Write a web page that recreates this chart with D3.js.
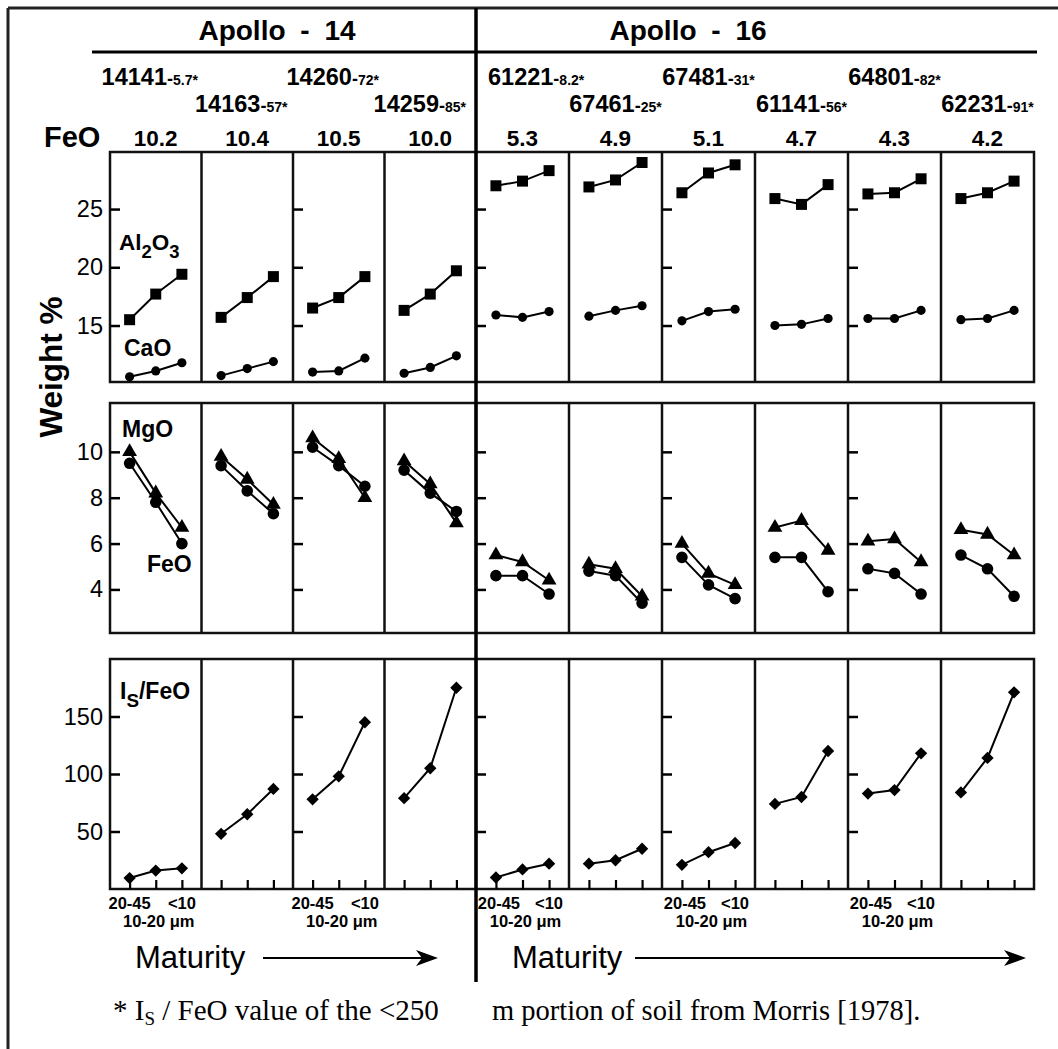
<!DOCTYPE html>
<meta charset="utf-8">
<style>
body { margin: 0; background: #fff; }
svg text { font-family: "Liberation Sans", Arial, Helvetica, sans-serif; fill: #000; }
.serif { font-family: "Liberation Serif", "Times New Roman", serif !important; }
</style>
<body>
<script src="https://d3js.org/d3.v7.min.js"></script>
<script>
// soil samples (one column each)
var samples = ["14141","14163","14260","14259","61221","67461","67481","61141","64801","62231"];
var mission = [0,0,0,0,1,1,1,1,1,1];
var missionNames = ["Apollo - 14","Apollo - 16"];
var bulkIsFeO = ["5.7","57","72","85","8.2","25","31","56","82","91"];
var bulkFeO = ["10.2","10.4","10.5","10.0","5.3","4.9","5.1","4.7","4.3","4.2"];
var fractions = ["20-45","10-20","<10"];

// weight % per size fraction (20-45, 10-20, <10 um)
var al2o3 = [[15.5,17.7,19.4],[15.7,17.4,19.2],[16.5,17.4,19.2],[16.3,17.7,19.7],
             [27.0,27.4,28.3],[26.9,27.5,29.0],[26.4,28.1,28.8],[25.9,25.4,27.1],[26.3,26.4,27.6],[25.9,26.4,27.4]];
var cao   = [[10.6,11.1,11.8],[10.7,11.3,11.9],[11.0,11.1,12.2],[10.9,11.4,12.4],
             [15.9,15.7,16.2],[15.8,16.3,16.7],[15.4,16.2,16.4],[15.0,15.1,15.6],[15.6,15.6,16.3],[15.5,15.6,16.3]];
var mgo   = [[10.0,8.2,6.7],[9.8,8.8,7.7],[10.6,9.7,8.0],[9.6,8.6,6.9],
             [5.5,5.2,4.4],[5.1,4.9,3.7],[6.0,4.7,4.2],[6.7,7.0,5.7],[6.1,6.2,5.2],[6.6,6.4,5.5]];
var feo   = [[9.5,7.8,6.0],[9.4,8.3,7.3],[10.2,9.4,8.5],[9.2,8.2,7.4],
             [4.6,4.6,3.8],[4.8,4.6,3.4],[5.4,4.2,3.6],[5.4,5.4,3.9],[4.9,4.7,3.8],[5.5,4.9,3.7]];
var isFeO = [[9.5,16,18],[48,65,87],[78,98,145],[79,105,175],
             [10,17,22],[22,25,35],[21,32,40],[74,80,120],[83,86,118],[84,114,171]];

var width = 1058, height = 1049;

var svg = d3.select("body").append("svg")
    .attr("width", width)
    .attr("height", height);

// column layout, one band scale per mission
var missionRange = [[110, 476], [476, 1034]];
var xCol = missionRange.map(function(r, g) {
  return d3.scaleBand()
    .domain(samples.filter(function(s, i) { return mission[i] === g; }))
    .range(r);
});
function colX(i) { return xCol[mission[i]](samples[i]); }
function colW(i) { return xCol[mission[i]].bandwidth(); }
function fracX(i) {
  return d3.scalePoint().domain(fractions).range([colX(i), colX(i) + colW(i)]).padding(0.75);
}

var rows = [
  {top: 152, bottom: 382, domain: [10.15, 29.9], ticks: [15, 20, 25]},
  {top: 403, bottom: 633, domain: [2.1, 12.13], ticks: [4, 6, 8, 10]},
  {top: 659, bottom: 889, domain: [0, 200], ticks: [50, 100, 150]}
];
rows.forEach(function(r) {
  r.y = d3.scaleLinear().domain(r.domain).range([r.bottom, r.top]);
});

var series = [
  {values: al2o3, row: 0, shape: d3.symbolSquare, size: 121, rot: 0},
  {values: cao, row: 0, shape: d3.symbolCircle, size: 66, rot: 0},
  {values: feo, row: 1, shape: d3.symbolCircle, size: 106, rot: 0},
  {values: mgo, row: 1, shape: d3.symbolTriangle, size: 95, rot: 0},
  {values: isFeO, row: 2, shape: d3.symbolSquare, size: 76, rot: 45}
];

// outer frame
svg.append("line").attr("x1", 8).attr("x2", width).attr("y1", 8).attr("y2", 8)
  .attr("stroke", "#222").attr("stroke-width", 3);
svg.append("line").attr("x1", 8).attr("x2", 8).attr("y1", 8).attr("y2", height)
  .attr("stroke", "#222").attr("stroke-width", 3);

// mission titles + rules
var titleX = [277, 688];
var ruleX = [[92, 476], [476, 1037]];
missionNames.forEach(function(name, g) {
  svg.append("text").attr("x", titleX[g]).attr("y", 40)
    .attr("text-anchor", "middle").attr("font-size", 28).attr("font-weight", "bold")
    .style("word-spacing", "7px")
    .text(name);
  svg.append("line").attr("x1", ruleX[g][0]).attr("x2", ruleX[g][1])
    .attr("y1", 52).attr("y2", 52).attr("stroke", "#000").attr("stroke-width", 3);
});

// sample names with bulk Is/FeO
samples.forEach(function(s, i) {
  var local = xCol[mission[i]].domain().indexOf(s);
  var t = svg.append("text")
    .attr("y", local % 2 === 0 ? 85 : 112)
    .attr("font-weight", "bold");
  t.append("tspan").attr("font-size", 23.5).text(s);
  t.append("tspan").attr("font-size", 18).text("-");
  t.append("tspan").attr("font-size", 14).text(bulkIsFeO[i] + "*");
  var w = t.node().getComputedTextLength();
  var x0 = colX(i) + colW(i) / 2 - w / 2 - (mission[i] === 0 ? 6 : 0);
  if (mission[i] === 0) x0 = Math.min(x0, 466 - w);
  else x0 = Math.max(x0, 488);
  t.attr("x", x0);
});

// bulk FeO row
svg.append("text").attr("x", 44).attr("y", 147)
  .attr("font-size", 29).attr("font-weight", "bold").text("FeO");
samples.forEach(function(s, i) {
  svg.append("text").attr("x", colX(i) + colW(i) / 2).attr("y", 146)
    .attr("text-anchor", "middle").attr("font-size", 22.5).attr("font-weight", "bold")
    .text(bulkFeO[i]);
});

// panels
rows.forEach(function(r) {
  svg.append("rect").attr("x", 110).attr("y", r.top)
    .attr("width", 1034 - 110).attr("height", r.bottom - r.top)
    .attr("fill", "none").attr("stroke", "#111").attr("stroke-width", 2.5);
  samples.forEach(function(s, i) {
    if (i === 0) return;
    svg.append("line").attr("x1", colX(i)).attr("x2", colX(i))
      .attr("y1", r.top).attr("y2", r.bottom)
      .attr("stroke", "#111").attr("stroke-width", 2.5);
  });

  // y ticks on every other column, labels on the first
  samples.forEach(function(s, i) {
    if (i % 2 !== 0) return;
    var ax = svg.append("g")
      .attr("transform", "translate(" + colX(i) + ",0)")
      .call(d3.axisLeft(r.y).tickValues(r.ticks)
        .tickSizeInner(-10).tickSizeOuter(0).tickPadding(7)
        .tickFormat(i === 0 ? d3.format("d") : ""));
    ax.select(".domain").remove();
    ax.selectAll(".tick line").attr("stroke", "#000").attr("stroke-width", 2.5);
    ax.selectAll(".tick text").attr("font-size", 23.5)
      .style("font-family", "'Liberation Sans', Arial, sans-serif");
  });
});

// x ticks under the Is/FeO panel
samples.forEach(function(s, i) {
  var xp = fracX(i);
  var ax = svg.append("g")
    .attr("transform", "translate(0," + rows[2].bottom + ")")
    .call(d3.axisBottom(xp).tickSizeInner(-9).tickSizeOuter(0).tickFormat(""));
  ax.select(".domain").remove();
  ax.selectAll(".tick line").attr("stroke", "#000").attr("stroke-width", 2.2);
  if (i % 2 === 0) {
    fractions.forEach(function(f, k) {
      svg.append("text")
        .attr("x", xp(f) + (k === 1 ? 3 : (k === 0 && mission[i] === 1 ? 3 : 0)))
        .attr("y", k === 1 ? 927 : 909)
        .attr("text-anchor", "middle")
        .attr("font-size", 16.5).attr("font-weight", "bold")
        .text(k === 1 ? f + " \u03bcm" : f);
    });
  }
});

// data lines and markers
series.forEach(function(se) {
  var r = rows[se.row];
  se.values.forEach(function(vals, i) {
    var xp = fracX(i);
    var line = d3.line()
      .x(function(d, k) { return xp(fractions[k]); })
      .y(function(d) { return r.y(d); });
    svg.append("path").datum(vals)
      .attr("d", line).attr("fill", "none")
      .attr("stroke", "#000").attr("stroke-width", 2);
    svg.selectAll(null).data(vals).enter().append("path")
      .attr("d", d3.symbol().type(se.shape).size(se.size))
      .attr("transform", function(d, k) {
        return "translate(" + xp(fractions[k]) + "," + r.y(d) + ") rotate(" + se.rot + ")";
      })
      .attr("fill", "#000");
  });
});

// mission divider
svg.append("line").attr("x1", 476).attr("x2", 476).attr("y1", 8).attr("y2", 982)
  .attr("stroke", "#000").attr("stroke-width", 3.5);

// series labels
function subLabel(x, y, size, parts) {
  var t = svg.append("text").attr("x", x).attr("y", y)
    .attr("font-size", size).attr("font-weight", "bold");
  parts.forEach(function(p) {
    t.append("tspan").attr("font-size", p[1] ? size * 0.82 : size)
      .attr("dy", p[1] ? 8 : (p[2] ? -8 : 0)).text(p[0]);
  });
  return t;
}
subLabel(119, 250, 22.5, [["Al"], ["2", true], ["O", false, true], ["3", true]]);
subLabel(124, 356, 23, [["CaO"]]);
subLabel(122, 437, 23, [["MgO"]]);
subLabel(147, 572, 23, [["FeO"]]);
subLabel(120, 699, 23, [["I"], ["S", true], ["/FeO", false, true]]);

// y axis title
svg.append("text")
  .attr("transform", "translate(62,367) rotate(-90)")
  .attr("text-anchor", "middle").attr("font-size", 31.5).attr("font-weight", "bold")
  .text("Weight %");

// maturity arrows
var maturity = [{x: 135, a0: 263, a1: 438}, {x: 512, a0: 635, a1: 1026}];
maturity.forEach(function(m) {
  svg.append("text").attr("x", m.x).attr("y", 968).attr("font-size", 31).text("Maturity");
  svg.append("line").attr("x1", m.a0).attr("x2", m.a1 - 14).attr("y1", 958).attr("y2", 958)
    .attr("stroke", "#000").attr("stroke-width", 2.2);
  svg.append("path")
    .attr("d", "M" + m.a1 + ",958 L" + (m.a1 - 22) + ",950 L" + (m.a1 - 16) + ",958 L" + (m.a1 - 22) + ",966 Z")
    .attr("fill", "#000");
});

// footnote
var fn = svg.append("text").attr("class", "serif").attr("x", 113).attr("y", 1020)
  .attr("font-size", 29);
fn.append("tspan").text("* I");
fn.append("tspan").attr("font-size", 19).attr("dy", 5).text("S");
fn.append("tspan").attr("dy", -5).text(" / FeO value of the <250");
svg.append("text").attr("class", "serif").attr("x", 492).attr("y", 1020).attr("font-size", 28.5)
  .text("m portion of soil from Morris [1978].");
</script>
</body>
